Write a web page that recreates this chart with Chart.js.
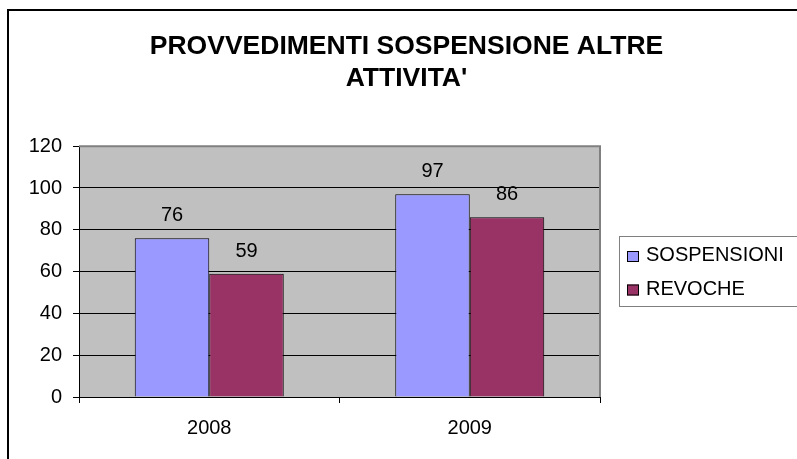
<!DOCTYPE html>
<html>
<head>
<meta charset="utf-8">
<script src="https://cdn.jsdelivr.net/npm/chart.js@4/dist/chart.umd.min.js"></script>
<style>
  html, body { margin: 0; padding: 0; background: #ffffff; }
  #wrap { width: 797px; height: 459px; }
</style>
</head>
<body>
<div id="wrap"><canvas id="c" width="797" height="459"></canvas></div>
<script>
const categories = ['2008', '2009'];
const sospensioni = [76, 97];
const revoche = [59, 86];
const seriesLabels = ['SOSPENSIONI', 'REVOCHE'];
const seriesColors = ['#9999FF', '#993366'];
const titleLines = ['PROVVEDIMENTI SOSPENSIONE ALTRE', "ATTIVITA'"];
const yMin = 0, yMax = 120, yStep = 20;

const FONT = "'Liberation Sans', Arial, sans-serif";

const decorPlugin = {
  id: 'decor',
  beforeDraw(chart) {
    const { ctx, chartArea: a } = chart;
    ctx.save();
    ctx.fillStyle = '#ffffff';
    ctx.fillRect(0, 0, chart.width, chart.height);
    ctx.fillStyle = '#C0C0C0';
    ctx.fillRect(a.left, a.top, a.right - a.left, a.bottom - a.top);
    ctx.restore();
  },
  beforeDatasetsDraw(chart) {
    const { ctx, chartArea: a } = chart;
    ctx.save();
    ctx.strokeStyle = '#808080';
    ctx.lineWidth = 2;
    ctx.beginPath();
    ctx.moveTo(a.left, a.top);
    ctx.lineTo(a.right, a.top);
    ctx.lineTo(a.right, a.bottom);
    ctx.stroke();
    ctx.restore();
  },
  afterDatasetsDraw(chart) {
    const { ctx } = chart;
    ctx.save();
    ctx.font = '20px ' + FONT;
    ctx.fillStyle = '#000000';
    ctx.textAlign = 'center';
    ctx.textBaseline = 'alphabetic';
    chart.data.datasets.forEach((ds, i) => {
      const meta = chart.getDatasetMeta(i);
      meta.data.forEach((bar, j) => {
        ctx.fillText(String(ds.data[j]), bar.x, bar.y - 17);
      });
    });
    ctx.restore();
  },
  afterDraw(chart) {
    const { ctx } = chart;
    ctx.save();
    // outer frame
    ctx.strokeStyle = '#000000';
    ctx.lineWidth = 2;
    ctx.strokeRect(8, 10, 900, 600);
    // legend box
    const lx = 619, ly = 236;
    ctx.lineWidth = 1;
    ctx.strokeStyle = '#808080';
    ctx.strokeRect(lx + 0.5, ly + 0.5, 200, 70);
    ctx.font = '20px ' + FONT;
    ctx.textAlign = 'left';
    ctx.textBaseline = 'alphabetic';
    chart.data.datasets.forEach((ds, i) => {
      const my = 251 + i * 33.5;
      ctx.fillStyle = ds.backgroundColor;
      ctx.fillRect(627, my, 12, 11);
      ctx.strokeStyle = '#000000';
      ctx.strokeRect(627.5, my + 0.5, 11, 10);
      ctx.fillStyle = '#000000';
      ctx.fillText(ds.label, 646, my + 10);
    });
    ctx.restore();
  }
};

new Chart(document.getElementById('c'), {
  type: 'bar',
  data: {
    labels: categories,
    datasets: [
      { label: seriesLabels[0], data: sospensioni, backgroundColor: seriesColors[0], borderColor: '#000000', borderWidth: 1, categoryPercentage: 0.572, barPercentage: 1.0 },
      { label: seriesLabels[1], data: revoche, backgroundColor: seriesColors[1], borderColor: '#000000', borderWidth: 1, categoryPercentage: 0.572, barPercentage: 1.0 }
    ]
  },
  options: {
    responsive: false,
    animation: false,
    devicePixelRatio: 1,
    layout: { padding: { left: 16, right: 0, top: 0, bottom: 0 } },
    plugins: {
      legend: { display: false },
      tooltip: { enabled: false },
      title: {
        display: true,
        text: titleLines,
        color: '#000000',
        font: { family: FONT, size: 26.5, weight: 'bold', lineHeight: 1.23 },
        padding: { top: 30, bottom: 51 }
      }
    },
    scales: {
      x: {
        grid: { drawOnChartArea: false, color: '#000000', tickLength: 6, offset: true },
        border: { color: '#000000', width: 1 },
        ticks: { color: '#000000', font: { family: FONT, size: 20 }, padding: 13 },
        afterFit(scale) { scale.height = 62; }
      },
      y: {
        min: yMin, max: yMax,
        grid: { color: '#000000', tickLength: 6 },
        border: { color: '#000000', width: 1 },
        ticks: { stepSize: yStep, color: '#000000', font: { family: FONT, size: 20 }, padding: 11 },
        afterFit(scale) { scale.width = 63; }
      },
      yR: {
        position: 'right',
        display: true,
        min: yMin, max: yMax,
        grid: { display: false, drawTicks: false },
        border: { display: false },
        ticks: { display: false },
        afterFit(scale) { scale.width = 197; }
      }
    }
  },
  plugins: [decorPlugin]
});
</script>
</body>
</html>
